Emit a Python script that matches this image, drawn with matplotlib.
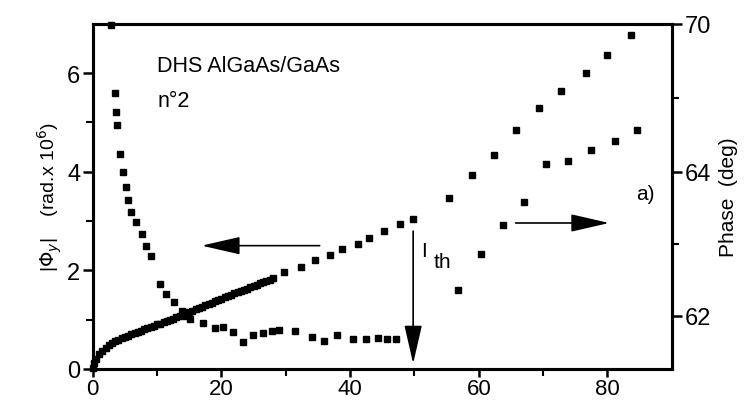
import numpy as np
import matplotlib
matplotlib.use('Agg')
import matplotlib.pyplot as plt
from matplotlib.ticker import FixedLocator

plt.rcParams['font.family'] = ['Liberation Sans', 'DejaVu Sans']

# |Phi_y| rising branch (left axis)
rise_x = [0, 0.25, 0.5, 1, 1.5, 2, 2.5, 3, 3.5, 4, 4.5, 5, 5.5, 6, 6.5, 7, 7.5, 8, 8.5, 9,
          9.5, 10, 10.5, 11, 11.5, 12, 12.5, 13, 13.5, 14, 14.5, 15, 15.5, 16, 16.5, 17,
          17.5, 18, 18.5, 19, 19.5, 20, 20.5, 21, 21.5, 22, 22.5, 23, 23.5, 24, 24.5, 25,
          25.5, 26, 26.5, 27, 27.5, 28,
          29.8, 32.4, 34.5, 36.8, 38.8, 41.2, 43.0, 45.3, 47.7, 49.7]
rise_y = [0.02, 0.12, 0.2, 0.3, 0.37, 0.43, 0.48, 0.52, 0.56, 0.59, 0.62, 0.65, 0.67, 0.70,
          0.72, 0.75, 0.77, 0.80, 0.82, 0.85, 0.87, 0.90, 0.92, 0.95, 0.97, 1.00, 1.02, 1.05,
          1.07, 1.10, 1.13, 1.15, 1.18, 1.21, 1.23, 1.26, 1.29, 1.31, 1.34, 1.37, 1.39, 1.42,
          1.45, 1.48, 1.50, 1.53, 1.56, 1.58, 1.61, 1.63, 1.66, 1.69, 1.71, 1.74, 1.76, 1.79,
          1.81, 1.84,
          1.96, 2.06, 2.21, 2.31, 2.43, 2.54, 2.65, 2.80, 2.93, 3.04]

# falling branch below threshold (left axis)
fall_x = [2.9, 3.4, 3.6, 3.8, 4.3, 4.7, 5.1, 5.5, 6.0, 6.8, 7.6, 8.3, 9.1, 10.4, 11.4, 12.7,
          13.8, 14.5, 15.1, 17.1, 19.0, 20.2, 21.8, 23.3, 24.9, 26.4, 27.8, 29.0, 31.4, 34.0,
          36.0, 38.0, 40.4, 42.5, 44.3, 45.8, 47.2]
fall_y = [6.97, 5.59, 5.22, 4.95, 4.37, 4.0, 3.7, 3.42, 3.19, 2.99, 2.74, 2.5, 2.3, 1.73, 1.52,
          1.36, 1.18, 1.08, 1.02, 0.94, 0.82, 0.84, 0.75, 0.55, 0.68, 0.72, 0.76, 0.79, 0.76,
          0.65, 0.56, 0.68, 0.61, 0.61, 0.62, 0.60, 0.60]

# phase above threshold (right axis)
ph_up_x = [55.4, 59.0, 62.4, 65.8, 69.4, 72.8, 76.6, 80.0, 83.7]
ph_up_y = [63.64, 63.96, 64.69, 65.70, 66.59, 67.28, 68.01, 68.74, 69.55]
ph_lo_x = [56.8, 60.4, 63.7, 67.1, 70.5, 73.9, 77.5, 81.1, 84.6]
ph_lo_y = [62.35, 62.86, 63.26, 63.58, 64.32, 64.45, 64.89, 65.26, 65.70]

x_ticks = [0, 20, 40, 60, 80]
left_ticks = [0, 2, 4, 6]
right_ticks = [62, 64, 70]


# right axis of the original is compressed above 64 deg
def fwd(v):
    v = np.asarray(v, dtype=float)
    return np.where(v <= 64, (v - 64) * 72.0, (v - 64) * 24.67)


def inv(u):
    u = np.asarray(u, dtype=float)
    return np.where(u <= 0, u / 72.0 + 64, u / 24.67 + 64)


fig = plt.figure(figsize=(7.54, 4.02), dpi=100)
ax = fig.add_axes([0.123, 0.080, 0.768, 0.858])
ax2 = ax.twinx()

ax.plot(rise_x, rise_y, 's', color='black', ms=4.4, clip_on=False)
ax.plot(fall_x, fall_y, 's', color='black', ms=4.6, clip_on=False)
ax2.set_yscale('function', functions=(fwd, inv))
ax2.plot(ph_up_x, ph_up_y, 's', color='black', ms=5)
ax2.plot(ph_lo_x, ph_lo_y, 's', color='black', ms=5)

ax.set_xlim(0, 90)
ax.set_ylim(0, 7)
ax2.set_ylim(61.26, 70)

ax.set_xticks(x_ticks)
ax.set_xticks([10, 30, 50, 70], minor=True)
ax.set_yticks(left_ticks)
ax.set_yticks([1, 3, 5], minor=True)
ax2.yaxis.set_major_locator(FixedLocator(right_ticks))
ax2.yaxis.set_minor_locator(FixedLocator([63, 67]))
ax2.set_yticklabels([str(t) for t in right_ticks])

for a in (ax, ax2):
    for s in a.spines.values():
        s.set_linewidth(2.2)
    a.tick_params(which='major', length=7, width=1.8, labelsize=17, pad=2)
    a.tick_params(which='minor', length=5, width=1.5)
ax.tick_params(axis='x', which='major', length=6, labelsize=16, pad=0.5)

ax.set_ylabel('|$\\Phi_y$|    (rad.x 10$^6$)', fontsize=14, labelpad=2)
ax2.set_ylabel('Phase  (deg)', fontsize=15, labelpad=6)

ax.text(10, 6.04, 'DHS AlGaAs/GaAs', fontsize=15.5)
ax.text(10, 5.33, 'n°2', fontsize=15.5)
ax.text(84.5, 3.45, 'a)', fontsize=15)
ax.text(51.0, 2.3, 'I', fontsize=15)
ax.text(53.0, 2.07, 'th', fontsize=15)

arrow = dict(arrowstyle='-|>,head_length=2.4,head_width=0.55', color='black', lw=1.2)
ax.annotate('', xy=(16.5, 2.5), xytext=(35.7, 2.5), arrowprops=arrow)
ax.annotate('', xy=(80.7, 2.96), xytext=(65.3, 2.96), arrowprops=arrow)
ax.annotate('', xy=(49.8, 0.05), xytext=(49.8, 2.85), arrowprops=arrow)

fig.savefig('out.png', dpi=100)
